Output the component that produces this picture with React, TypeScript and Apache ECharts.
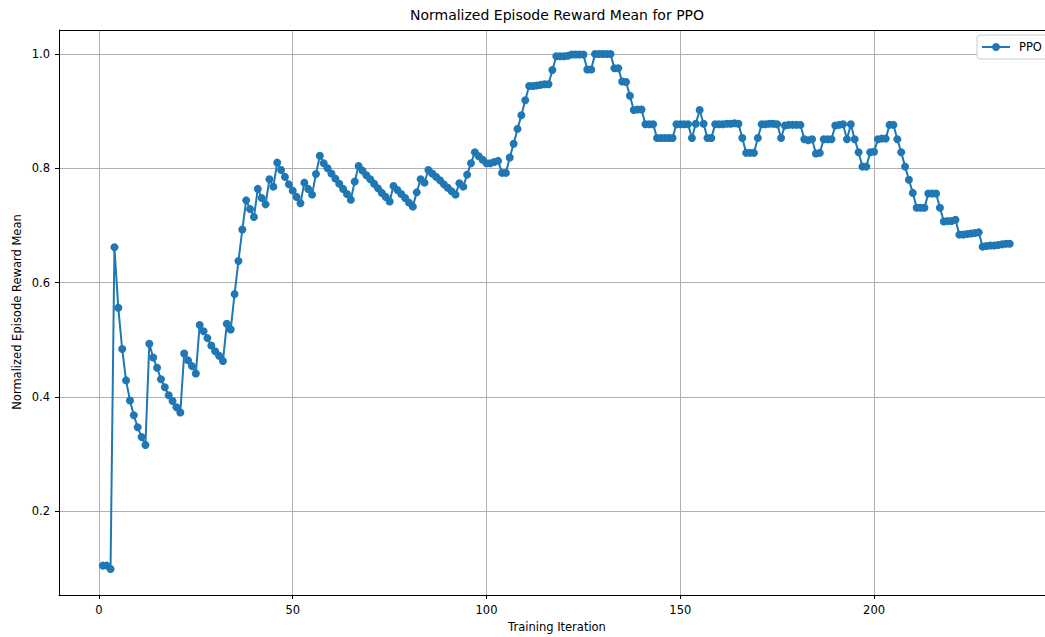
import React, { useEffect, useRef } from "react";
import * as echarts from "echarts";

const iterations: number[] = Array.from({ length: 235 }, (_, i) => i + 1);

const rewardMean: number[] = [
  0.105, 0.105, 0.099, 0.662, 0.556, 0.484, 0.429, 0.394, 0.368, 0.347,
  0.330, 0.316, 0.493, 0.469, 0.451, 0.431, 0.417, 0.403, 0.393, 0.382,
  0.373, 0.476, 0.464, 0.454, 0.441, 0.526, 0.515, 0.503, 0.490, 0.480,
  0.472, 0.463, 0.528, 0.518, 0.580, 0.638, 0.693, 0.744, 0.729, 0.715,
  0.764, 0.748, 0.737, 0.781, 0.768, 0.810, 0.797, 0.785, 0.772, 0.761,
  0.750, 0.739, 0.775, 0.764, 0.754, 0.790, 0.822, 0.809, 0.800, 0.791,
  0.782, 0.773, 0.764, 0.755, 0.745, 0.777, 0.804, 0.796, 0.788, 0.781,
  0.773, 0.765, 0.757, 0.750, 0.742, 0.769, 0.762, 0.755, 0.748, 0.740,
  0.733, 0.758, 0.781, 0.775, 0.797, 0.791, 0.785, 0.779, 0.772, 0.766,
  0.760, 0.754, 0.774, 0.768, 0.789, 0.809, 0.828, 0.821, 0.815, 0.809,
  0.809, 0.811, 0.813, 0.792, 0.792, 0.819, 0.843, 0.869, 0.893, 0.919,
  0.944, 0.944, 0.945, 0.946, 0.947, 0.947, 0.972, 0.996, 0.996, 0.996,
  0.997, 0.999, 0.999, 0.999, 0.999, 0.973, 0.973, 1.0, 1.0, 1.0,
  1.0, 1.0, 0.975, 0.975, 0.952, 0.951, 0.927, 0.902, 0.903, 0.903,
  0.877, 0.877, 0.877, 0.853, 0.853, 0.853, 0.853, 0.853, 0.877, 0.877,
  0.877, 0.877, 0.853, 0.878, 0.902, 0.878, 0.853, 0.853, 0.877, 0.877,
  0.877, 0.878, 0.878, 0.879, 0.878, 0.853, 0.827, 0.827, 0.827, 0.853,
  0.877, 0.877, 0.878, 0.878, 0.877, 0.853, 0.875, 0.876, 0.876, 0.876,
  0.876, 0.851, 0.849, 0.851, 0.826, 0.827, 0.851, 0.851, 0.851, 0.875,
  0.876, 0.877, 0.851, 0.877, 0.851, 0.828, 0.803, 0.803, 0.828, 0.829,
  0.851, 0.852, 0.852, 0.876, 0.876, 0.851, 0.828, 0.803, 0.780, 0.757,
  0.731, 0.731, 0.731, 0.756, 0.756, 0.756, 0.731, 0.707, 0.708, 0.708,
  0.710, 0.684, 0.684, 0.685, 0.686, 0.687, 0.688, 0.663, 0.664, 0.665,
  0.665, 0.666, 0.667, 0.668, 0.668,
];

const xTicks: number[] = [0, 50, 100, 150, 200];
const yTicks: number[] = [0.2, 0.4, 0.6, 0.8, 1.0];

const chartTitle = "Normalized Episode Reward Mean for PPO";
const xLabel = "Training Iteration";
const yLabel = "Normalized Episode Reward Mean";
const seriesName = "PPO";

export default function App() {
  const ref = useRef<HTMLDivElement>(null);

  useEffect(() => {
    if (!ref.current) return;
    const chart = echarts.init(ref.current, undefined, { renderer: "svg" });
    const font = "DejaVu Sans";
    const data = iterations.map((x, i) => [x, rewardMean[i]]);
    chart.setOption({
      animation: false,
      backgroundColor: "#ffffff",
      textStyle: { fontFamily: font },
      grid: {
        left: 59,
        right: 0,
        top: 30,
        bottom: 42,
        show: false,
      },
      xAxis: {
        type: "value",
        min: -10.3,
        max: 244.1,
        axisLine: { show: true, onZero: false, lineStyle: { color: "#000", width: 1 } },
        axisTick: {
          show: true,
          length: 4,
          customValues: xTicks,
          lineStyle: { color: "#000" },
        },
        axisLabel: {
          customValues: xTicks,
          color: "#000",
          fontSize: 11.5,
          fontFamily: font,
          margin: 9,
        },
        splitLine: { show: true, lineStyle: { color: "#b0b0b0", width: 1 } },
      },
      yAxis: {
        type: "value",
        min: 0.0536,
        max: 1.042,
        axisLine: { show: true, onZero: false, lineStyle: { color: "#000", width: 1 } },
        axisTick: {
          show: true,
          length: 4,
          customValues: yTicks,
          lineStyle: { color: "#000" },
        },
        axisLabel: {
          customValues: yTicks,
          color: "#000",
          fontSize: 11.5,
          fontFamily: font,
          margin: 9,
          formatter: (v: number) => v.toFixed(1),
        },
        splitLine: { show: true, lineStyle: { color: "#b0b0b0", width: 1 } },
      },
      legend: {
        show: true,
        left: 977,
        top: 35,
        orient: "horizontal",
        padding: [6, 12, 6, 4],
        itemWidth: 28,
        itemHeight: 10,
        backgroundColor: "#ffffff",
        borderColor: "#cccccc",
        borderWidth: 1,
        borderRadius: 3,
        textStyle: { color: "#000", fontSize: 11.5, fontFamily: font, padding: [0, 0, 0, 4] },
        data: [seriesName],
      },
      graphic: [
        {
          type: "line",
          shape: { x1: 59, y1: 30.5, x2: 1045, y2: 30.5 },
          style: { stroke: "#000", lineWidth: 1 },
          z: 10,
        },
        {
          type: "text",
          x: 557,
          y: 15,
          style: {
            text: chartTitle,
            fill: "#000",
            fontSize: 14,
            fontFamily: font,
            textAlign: "center",
            textVerticalAlign: "middle",
          },
        },
        {
          type: "text",
          x: 557,
          y: 627,
          style: {
            text: xLabel,
            fill: "#000",
            fontSize: 11.5,
            fontFamily: font,
            textAlign: "center",
            textVerticalAlign: "middle",
          },
        },
        {
          type: "text",
          x: 17,
          y: 312,
          rotation: Math.PI / 2,
          style: {
            text: yLabel,
            fill: "#000",
            fontSize: 11.5,
            fontFamily: font,
            textAlign: "center",
            textVerticalAlign: "middle",
          },
        },
      ],
      series: [
        {
          name: seriesName,
          type: "line",
          data,
          symbol: "circle",
          symbolSize: 8,
          showSymbol: true,
          showAllSymbol: true,
          lineStyle: { color: "#1f77b4", width: 2 },
          itemStyle: { color: "#1f77b4" },
          emphasis: { disabled: true },
        },
      ],
    });
    return () => chart.dispose();
  }, []);

  return (
    <div
      ref={ref}
      style={{ position: "fixed", left: 0, top: 0, width: 1045, height: 637 }}
    />
  );
}
